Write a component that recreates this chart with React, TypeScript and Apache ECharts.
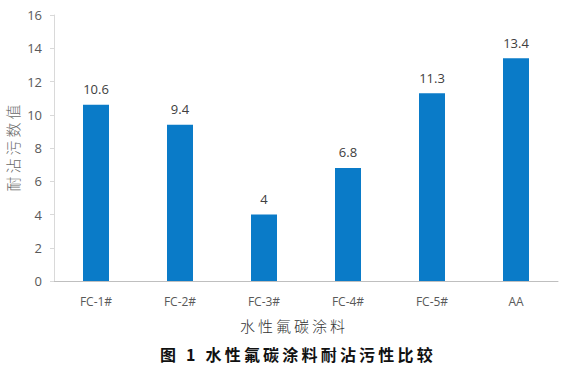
import React, { useEffect, useRef } from "react";
import * as echarts from "echarts";

const categories = ["FC-1#", "FC-2#", "FC-3#", "FC-4#", "FC-5#", "AA"];
const values = [10.6, 9.4, 4, 6.8, 11.3, 13.4];
const yTicks = { min: 0, max: 16, interval: 2 };
const xName = "水性氟碳涂料";
const yName = "耐沾污数值";
const titleText = "图 1 水性氟碳涂料耐沾污性比较";

const spaced = (s: string) => s.split("").join("\u2009");

export default function App() {
  const ref = useRef<HTMLDivElement>(null);
  useEffect(() => {
    if (!ref.current) return;
    const chart = echarts.init(ref.current, null, { renderer: "svg" });
    chart.setOption({
      animation: false,
      backgroundColor: "#ffffff",
      grid: {
        left: 54,
        right: 7,
        top: 15,
        bottom: 88,
        containLabel: false,
        outerBoundsMode: "none",
      },
      xAxis: {
        type: "category",
        data: categories,
        axisLine: { lineStyle: { color: "#bfbfbf", width: 1 } },
        axisTick: { show: false },
        axisLabel: {
          color: "#595959",
          fontSize: 12,
          fontFamily: "Open Sans",
          margin: 14,
        },
      },
      yAxis: {
        type: "value",
        min: yTicks.min,
        max: yTicks.max,
        interval: yTicks.interval,
        splitLine: { show: false },
        axisLine: { show: true, lineStyle: { color: "#d9d9d9" } },
        axisTick: { show: true, length: 4, lineStyle: { color: "#d9d9d9" } },
        axisLabel: {
          color: "#595959",
          fontSize: 13,
          fontFamily: "Open Sans",
          margin: 12,
        },
      },
      series: [
        {
          type: "bar",
          data: values,
          barWidth: 26,
          itemStyle: { color: "#0a7bc8" },
          label: {
            show: true,
            position: "top",
            distance: 9,
            color: "#404040",
            fontSize: 13,
            fontFamily: "Open Sans",
          },
        },
      ],
      graphic: [
        {
          type: "text",
          x: 12,
          y: 148,
          rotation: Math.PI / 2,
          style: {
            text: spaced(yName),
            fontSize: 15,
            fontFamily: "Noto Sans CJK SC",
            fontWeight: 300,
            fill: "#6a6a6a",
            align: "center",
            verticalAlign: "middle",
          },
        },
        {
          type: "text",
          left: 240,
          top: 318,
          style: {
            text: spaced(xName),
            fontSize: 15,
            fontFamily: "Noto Sans CJK SC",
            fontWeight: 300,
            fill: "#333333",
          },
        },
        {
          type: "text",
          left: 160,
          top: 346,
          style: {
            text: spaced(titleText),
            fontSize: 16,
            fontFamily: "Noto Sans CJK SC",
            fontWeight: "bold",
            fill: "#111111",
          },
        },
      ],
    });
    return () => chart.dispose();
  }, []);
  return (
    <div
      ref={ref}
      style={{ position: "absolute", left: 0, top: 0, width: 565, height: 369 }}
    />
  );
}
